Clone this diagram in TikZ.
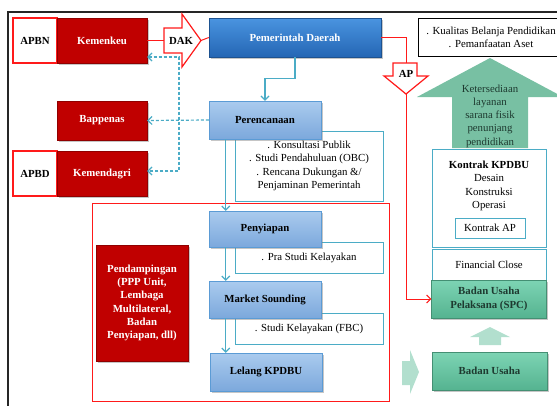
\documentclass[tikz,border=0pt]{standalone}
\usepackage{fontspec}
\setmainfont{Liberation Serif}
\usepackage{xcolor}
\usepackage{tikz}
\usetikzlibrary{arrows.meta,positioning,calc,shadows}
\definecolor{KemRed}{HTML}{C00000}
\definecolor{GarisMerah}{HTML}{FF1A1A}
\definecolor{LinkBlue}{HTML}{4BACC6}
\definecolor{PemdaTop}{HTML}{4A94E0}
\definecolor{PemdaBot}{HTML}{2466B4}
\definecolor{TahapTop}{HTML}{AACBEE}
\definecolor{TahapBot}{HTML}{7CA8DC}
\definecolor{TahapLine}{HTML}{5B9BD5}
\definecolor{HijauTop}{HTML}{7DD4B4}
\definecolor{HijauBot}{HTML}{55B390}
\definecolor{PanahHijau}{HTML}{78C0A3}
\definecolor{PanahMuda}{HTML}{B2DFCE}
\definecolor{TeksHijau}{HTML}{1E3A30}

\begin{document}
\fontsize{10.8}{13.3}\selectfont
\begin{tikzpicture}[x=1pt,y=-1pt,>={Straight Barb[length=4pt,width=8pt]},
  bayang/.style={drop shadow={shadow xshift=1.5pt,shadow yshift=-1.5pt,opacity=.45}},
  merahbox/.style={draw=KemRed!75!black,fill=KemRed,text=white,font=\bfseries,align=center,bayang},
  putihmerah/.style={draw=GarisMerah,line width=1.2pt,fill=white,font=\bfseries},
  pemdabox/.style={draw=PemdaBot!80!black,top color=PemdaTop,bottom color=PemdaBot,text=white,font=\bfseries,bayang},
  tahapbox/.style={draw=TahapLine,top color=TahapTop,bottom color=TahapBot,font=\bfseries,minimum width=112,bayang},
  ketbox/.style={draw=LinkBlue,line width=.8pt,fill=white,align=center,minimum width=148},
  kontrakbox/.style={draw=LinkBlue,line width=1pt,fill=white,align=center},
  hijaubox/.style={draw=HijauBot!80!black,top color=HijauTop,bottom color=HijauBot,text=TeksHijau,font=\bfseries,align=center,minimum width=115,minimum height=38,bayang},
  garismerah/.style={GarisMerah,line width=1pt},
  panahmerah/.style={draw=GarisMerah,line width=1.2pt,fill=white,line join=miter},
  alur/.style={LinkBlue,line width=1.2pt},
  alurputus/.style={LinkBlue,line width=1.2pt,dashed,dash pattern=on 3pt off 2pt}]
\useasboundingbox (0,0) rectangle (557,405);
\draw[line width=1.2pt,black!85] (8,12) rectangle (575,420);
\draw[GarisMerah,line width=1pt] (92,203) rectangle (389,401);

% sisi kiri
\node[putihmerah,minimum width=44,minimum height=45] (apbn) at (35,40.5) {APBN};
\node[merahbox,minimum width=90,minimum height=45] (kmk) at (102,40.5) {Kemenkeu};
\node[merahbox,minimum width=90,minimum height=39] (bap) at (102,120.5) {Bappenas};
\node[putihmerah,minimum width=44,minimum height=45] (apbd) at (35,173.5) {APBD};
\node[merahbox,minimum width=90,minimum height=45] (kmd) at (102,173.5) {Kemendagri};
\node[merahbox,minimum width=92,minimum height=116] (damping) at (142,303) {Pendampingan\\(PPP Unit,\\Lembaga\\Multilateral,\\Badan\\Penyiapan, dll)};

% DAK
\draw[panahmerah] (164,28) -- (182,28) -- (182,14) -- (201,40.5) -- (182,67) -- (182,53) -- (164,53) -- cycle;
\node[font=\bfseries] (dak) at (181,40.5) {DAK};
\coordinate (dakL) at (164,40.5);
\coordinate (dakR) at (201,40.5);

% tahapan
\node[pemdabox,minimum width=172,minimum height=39] (pemda) at (295,37.5) {Pemerintah Daerah};
\node[ketbox,minimum height=70] (ket1) at (309,166) {. Konsultasi Publik\\. Studi Pendahuluan (OBC)\\. Rencana Dukungan \&/\\Penjaminan Pemerintah};
\node[ketbox,minimum height=31] (ket2) at (309,257.5) {. Pra Studi Kelayakan};
\node[ketbox,minimum height=31] (ket3) at (309,328.5) {. Studi Kelayakan (FBC)};
\node[tahapbox,minimum height=38] (renc) at (265,120) {Perencanaan};
\node[tahapbox,minimum height=36] (siap) at (265,229) {Penyiapan};
\node[tahapbox,minimum height=37] (market) at (265,299.5) {Market Sounding};
\node[tahapbox,minimum height=38] (lelang) at (266,372) {Lelang KPDBU};

% sisi kanan
\node[draw=black,line width=1pt,fill=white,minimum width=146,minimum height=38,align=center] (tujuan) at (491,37) {. Kualitas Belanja Pendidikan\\. Pemanfaatan Aset};
\fill[PanahHijau] (452,148) -- (452,97) -- (417,97) -- (490,58) -- (563,97) -- (528,97) -- (528,148) -- cycle;
\node[align=center,text=TeksHijau] (layanan) at (490,116) {Ketersediaan\\layanan\\sarana fisik\\penunjang\\pendidikan};
\node[kontrakbox,minimum width=114,minimum height=98] (kontrak) at (489,198) {};
\node[align=center] (isi) at (489,186) {\textbf{Kontrak KPDBU}\\Desain\\Konstruksi\\Operasi};
\node[kontrakbox,minimum width=70,minimum height=20] (kap) at (490,228) {Kontrak AP};
\node[kontrakbox,minimum width=114,minimum height=31] (fc) at (489,264.5) {Financial Close};
\node[hijaubox] (spc) at (489,299) {Badan Usaha\\Pelaksana (SPC)};
\node[hijaubox] (bu) at (489.5,371) {Badan Usaha};
\fill[PanahMuda] (479,345) -- (479,337) -- (470,337) -- (490,327) -- (510,337) -- (501,337) -- (501,345) -- cycle;
\fill[PanahMuda] (402,361) -- (410,361) -- (410,350) -- (419,372) -- (410,394) -- (410,385) -- (402,385) -- cycle;

% AP
\draw[panahmerah] (393,63) -- (417,63) -- (417,76) -- (428,76) -- (406,94) -- (384,76) -- (393,76) -- cycle;
\node[font=\bfseries] (ap) at (406,74) {AP};
\coordinate (apT) at (406,63);
\coordinate (apB) at (406,94);

% penghubung
\draw[garismerah] (kmk.east) -- (dakL);
\draw[garismerah] (dakR) -- (pemda.west);
\draw[garismerah] (pemda.east) -| (apT);
\draw[garismerah,->] (apB) |- (spc.west);
\draw[alur,->] (pemda.south) -- ++(0,21) -| (renc.north);
\draw[alur,->] ([xshift=17pt]renc.south west) -- ([xshift=17pt]siap.north west);
\draw[alur,->] ([xshift=17pt]siap.south west) -- ([xshift=17pt]market.north west);
\draw[alur,->] ([xshift=17pt]market.south west) -- ([xshift=16pt]lelang.north west);
\coordinate (cabang) at (179,120.5);
\draw[alurputus,->] (renc.west) -- (bap.east);
\draw[alurputus,<->] ([yshift=-16.5pt]kmk.east) -| (cabang) |- ([yshift=2.5pt]kmd.east);
\end{tikzpicture}
\end{document}
